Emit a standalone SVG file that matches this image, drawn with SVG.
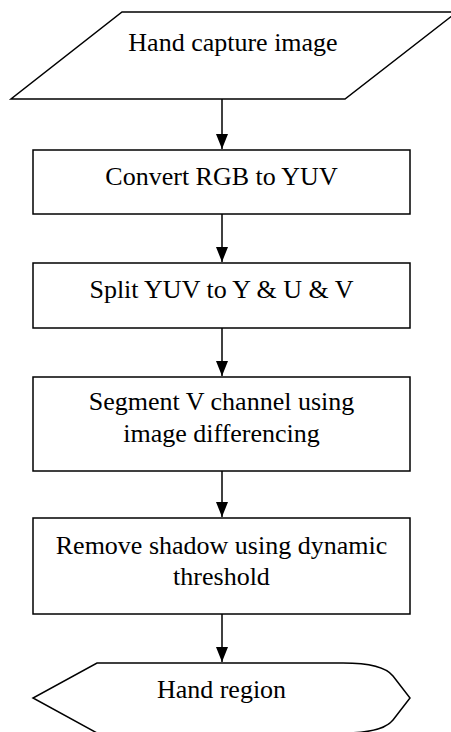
<svg xmlns="http://www.w3.org/2000/svg" width="451" height="732" viewBox="0 0 451 732">
<style>
.s{fill:#fff;stroke:#000;stroke-width:1.5}
.t{font-family:"Liberation Serif","Times New Roman",serif;font-size:26px;fill:#000;text-anchor:middle}
.c{stroke:#000;stroke-width:1.5;fill:none;marker-end:url(#ah)}
</style>
<defs>
<marker id="ah" markerWidth="15" markerHeight="12" refX="15" refY="6" orient="auto" markerUnits="userSpaceOnUse" viewBox="0 0 15 12">
<path d="M0,0 L15,6 L0,12 Z" fill="#000"/>
</marker>
</defs>
<rect width="451" height="732" fill="#fff"/>
<g id="connectors">
<line class="c" x1="222" y1="99" x2="222" y2="149"/>
<line class="c" x1="222" y1="214" x2="222" y2="262"/>
<line class="c" x1="222" y1="328" x2="222" y2="376"/>
<line class="c" x1="222" y1="471" x2="222" y2="517"/>
<line class="c" x1="222" y1="614" x2="222" y2="662"/>
</g>
<g id="n1">
<polygon class="s" points="122,12 457,12 345,99 11,99"/>
<text class="t" x="233" y="51">Hand capture image</text>
</g>
<g id="n2">
<rect class="s" x="33" y="150" width="377" height="64"/>
<text class="t" x="221.5" y="185">Convert RGB to YUV</text>
</g>
<g id="n3">
<rect class="s" x="33" y="263" width="377" height="65"/>
<text class="t" x="221.5" y="298">Split YUV to Y &amp; U &amp; V</text>
</g>
<g id="n4">
<rect class="s" x="33" y="377" width="377" height="94"/>
<text class="t" x="221.5" y="410">Segment V channel using</text>
<text class="t" x="221.5" y="442">image differencing</text>
</g>
<g id="n5">
<rect class="s" x="33" y="518" width="377" height="96"/>
<text class="t" x="221.5" y="554">Remove shadow using dynamic</text>
<text class="t" x="221.5" y="585">threshold</text>
</g>
<g id="n6">
<path class="s" d="M97,663 L343,663 C370,663 386,667 393,676 L410,698 L393,720 C386,729 370,733 343,733 L97,733 L33,698 Z"/>
<text class="t" x="221.5" y="698">Hand region</text>
</g>
</svg>
